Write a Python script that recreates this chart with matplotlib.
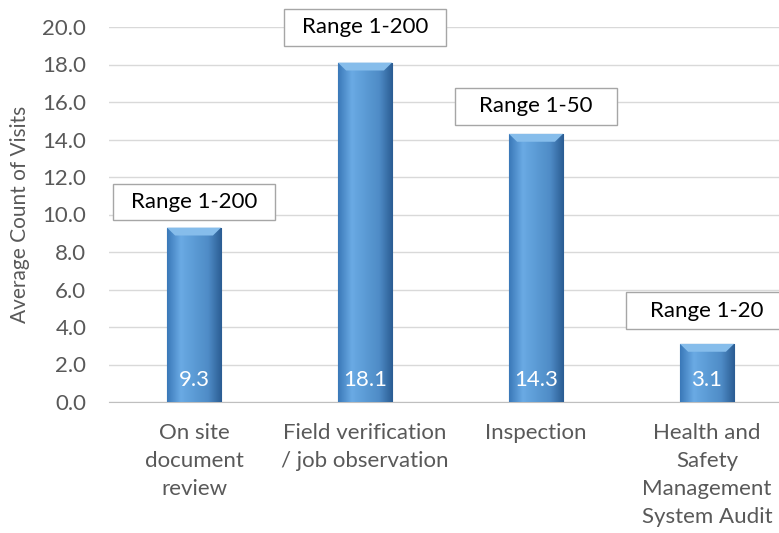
import matplotlib
matplotlib.use("Agg")
import matplotlib.pyplot as plt
import numpy as np
from matplotlib.colors import LinearSegmentedColormap
from matplotlib.patches import Rectangle

plt.rcParams['font.family'] = ['Lato', 'DejaVu Sans']

categories = ["On site\ndocument\nreview", "Field verification\n/ job observation",
              "Inspection", "Health and\nSafety\nManagement\nSystem Audit"]
values = [9.3, 18.1, 14.3, 3.1]
range_labels = ["Range 1-200", "Range 1-200", "Range 1-50", "Range 1-20"]
yticks = [0, 2, 4, 6, 8, 10, 12, 14, 16, 18, 20]

W, H = 779, 533
fig = plt.figure(figsize=(W/100, H/100), dpi=100)
ax = fig.add_axes([108.5/W, 1 - 402/H, 684/W, 375/H])

FS = 16
x = np.arange(len(categories))
bars = ax.bar(x, values, width=0.316, color="#5B9BD5", edgecolor="#2E5F8C",
              linewidth=0.8, zorder=3)

# horizontal gradient overlay for a bevel look
cmap = LinearSegmentedColormap.from_list(
    "bev", ["#3A78B8", "#6AAAE4", "#5B9BD5", "#4F8CC7", "#2A5C92"])
grad = np.linspace(0, 1, 256).reshape(1, -1)
for b in bars:
    x0, w, h = b.get_x(), b.get_width(), b.get_height()
    im = ax.imshow(grad, aspect="auto", cmap=cmap,
                   extent=(x0, x0 + w, 0, h), zorder=3.5, interpolation="bicubic")
    im.set_clip_path(b)
    # top bevel highlight
    ax.fill([x0, x0 + w, x0 + w*0.85, x0 + w*0.15], [h, h, h - 0.42, h - 0.42],
            color="#86BDEB", zorder=3.6, linewidth=0)

for xi, v in zip(x, values):
    ax.text(xi, 1.15, f"{v:.1f}", ha="center", va="center", color="white",
            fontsize=FS, zorder=5)

# range annotation boxes
box_bottom = [9.7, 19.0, 14.8, 3.9]
box_w, box_h = 0.95, 1.95
for xi, lab, by in zip(x, range_labels, box_bottom):
    r = Rectangle((xi - box_w/2, by), box_w, box_h, facecolor="white",
                  edgecolor="#A6A6A6", linewidth=1, zorder=6, clip_on=False)
    ax.add_patch(r)
    ax.text(xi, by + box_h/2, lab, ha="center", va="center", fontsize=FS,
            color="black", zorder=7, clip_on=False)

ax.set_xlim(-0.5, 3.5)
ax.set_ylim(0, 20)
ax.set_yticks(yticks)
ax.set_yticklabels([f"{t:.1f}" for t in yticks], fontsize=FS, color="#595959")
ax.set_xticks(x)
ax.set_xticklabels(categories, fontsize=FS, color="#595959", linespacing=1.5)
ax.tick_params(axis="y", length=0, pad=16)
ax.tick_params(axis="x", length=0, pad=15)
ax.grid(axis="y", color="#D9D9D9", linewidth=1, zorder=0)
for s in ["top", "right", "left"]:
    ax.spines[s].set_visible(False)
ax.spines["bottom"].set_color("#BFBFBF")
ax.set_ylabel("Average Count of Visits", fontsize=15, color="#595959", labelpad=9)

fig.savefig("out.png", dpi=100)
